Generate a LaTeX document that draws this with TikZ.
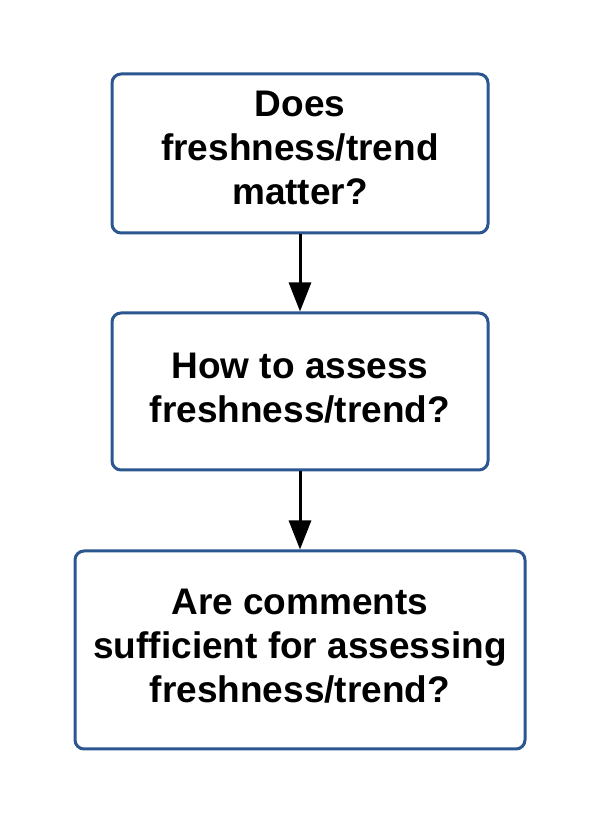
\documentclass[tikz,border=0pt]{standalone}
\usepackage{fontspec}
\setmainfont{Liberation Sans}
\usetikzlibrary{arrows.meta}
\definecolor{boxblue}{HTML}{2B5690}
\begin{document}
\begin{tikzpicture}[x=1pt,y=1pt,
  flowbox/.style={draw=boxblue, line width=3pt, rounded corners=9pt, fill=white, inner sep=0pt},
  boxtext/.style={align=center, inner sep=0pt, font=\fontsize{37}{44}\selectfont\bfseries},
  flowarrow/.style={line width=3pt, -{Triangle[length=29pt,width=22pt]}}]
\useasboundingbox (0,0) rectangle (600,825);
\fill[white] (0,0) rectangle (600,825);
\node[flowbox, minimum width=376pt, minimum height=159pt,
  label={[boxtext, yshift=6pt]center:Does\\freshness/trend\\matter?}] (b1) at (300,671.5) {};
\node[flowbox, minimum width=376pt, minimum height=157pt,
  label={[boxtext, yshift=3pt]center:How to assess\\freshness/trend?}] (b2) at (300,433.5) {};
\node[flowbox, minimum width=450pt, minimum height=198pt,
  label={[boxtext, yshift=4pt]center:Are comments\\sufficient for assessing\\freshness/trend?}] (b3) at (300,175) {};
\draw[flowarrow] (b1.south) -- (b2.north);
\draw[flowarrow] (b2.south) -- (b3.north);
\end{tikzpicture}
\end{document}
